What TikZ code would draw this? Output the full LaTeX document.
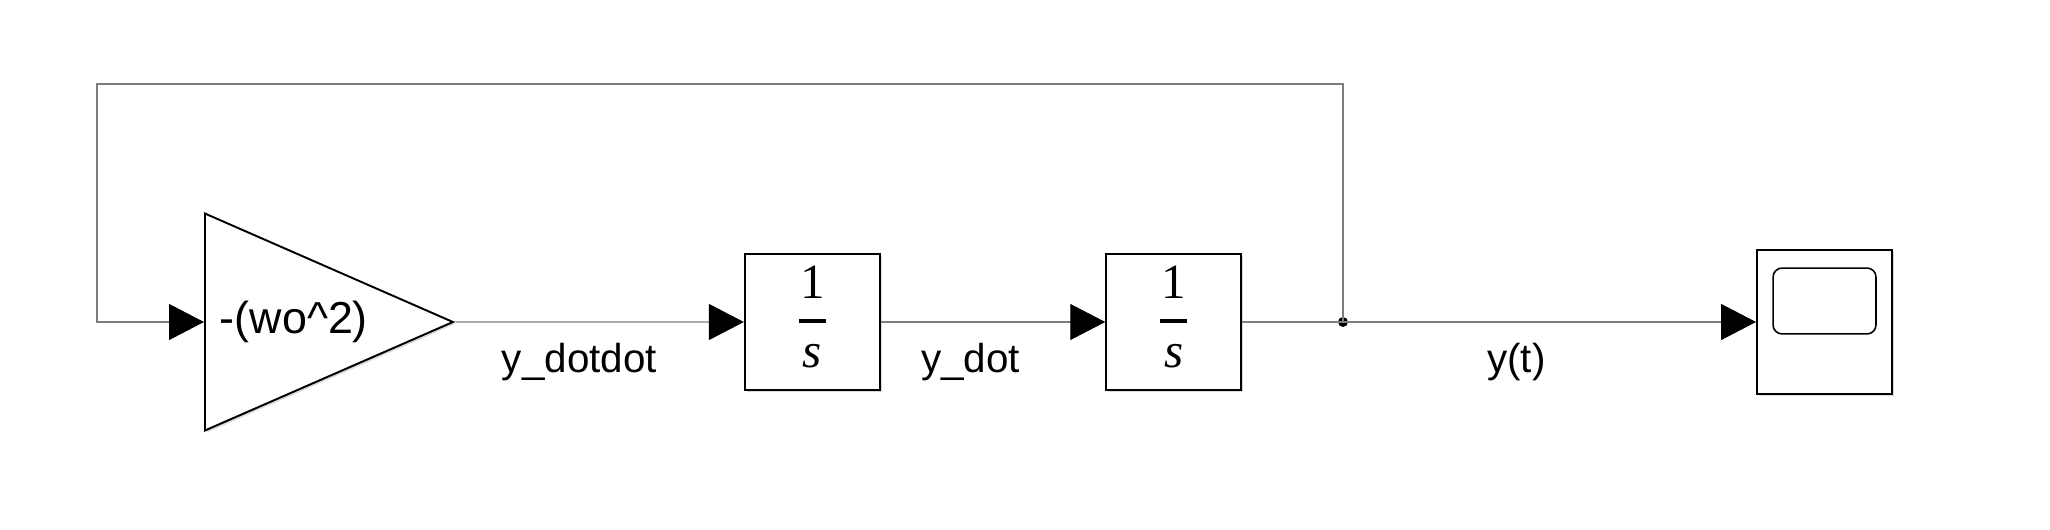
\documentclass[tikz,border=0pt]{standalone}
\usepackage{fontspec}
\setmainfont{Liberation Sans}
\newfontfamily\fracfont{Liberation Serif}
\usepackage{tikz}
\usetikzlibrary{shapes.geometric, positioning, arrows.meta, shadows}
\definecolor{wiregray}{RGB}{125,125,125}
\newcommand{\intfrac}{\fracfont\fontsize{28}{32}\selectfont\vbox{\offinterlineskip\halign{\hfil##\hfil\cr 1\cr\noalign{\kern11.8pt}\rule{0.54cm}{2.2pt}\cr\noalign{\kern11.9pt}\textit{s}\cr\noalign{\kern5.9pt}}}}
\tikzstyle{block} = [rectangle, minimum width=2.7cm, minimum height=2.72cm, inner sep=0, draw=black, line width=1.1pt, fill=white, drop shadow={shadow xshift=0.04cm, shadow yshift=-0.04cm, opacity=0.3}]
\tikzstyle{gain} = [isosceles triangle, isosceles triangle stretches, shape border rotate=0, minimum width=4.34cm, minimum height=4.96cm, inner sep=0, draw=black, line width=1.1pt, fill=white, font=\fontsize{25.5}{30}\selectfont, drop shadow={shadow xshift=0.04cm, shadow yshift=-0.04cm, opacity=0.3}]
\tikzstyle{scopeblock} = [rectangle, minimum width=2.7cm, minimum height=2.88cm, inner sep=0, draw=black, line width=1.1pt, fill=white, drop shadow={shadow xshift=0.04cm, shadow yshift=-0.04cm, opacity=0.3}]
\tikzstyle{wire} = [draw=wiregray, line width=0.7pt]
\tikzstyle{arrowtip} = [-{Triangle[length=0.7cm, width=0.72cm, color=black]}]
\tikzstyle{sig label} = [font=\fontsize{23}{27}\selectfont, inner sep=0, anchor=base, yshift=-1.02cm]
\tikzstyle{branch} = [circle, fill=black, inner sep=0, minimum size=0.2cm]

\begin{document}
\begin{tikzpicture}[x=0.02cm, y=-0.02cm]
		\useasboundingbox (0,0) rectangle (2050,530);
		\node (Gain)[gain, anchor=lower side] at (204,322) {-(wo\textasciicircum2)};
		\node (Integrator 1)[block, right = 5.77cm of Gain]{\intfrac};
		\node (Integrator 2)[block, right = 4.49cm of Integrator 1]{\intfrac};
		\node (Scope)[scopeblock, right = 10.28cm of Integrator 2]{};
		\node (Branch)[branch] at (1343,322){};
		\coordinate (Feedback corner) at (97,84);
		% scope screen
		\draw [line width=0.9pt, rounded corners=0.18cm] ([shift={(17,19)}]Scope.north west) rectangle ([shift={(-17,-61)}]Scope.south east);
		\draw [wire, arrowtip] (Gain) -- node[sig label, pos=0.43]{y\_dotdot} (Integrator 1);
		\draw [wire, arrowtip] (Integrator 1) -- node[sig label, pos=0.40]{y\_dot} (Integrator 2);
		\draw [wire] (Integrator 2) -- (Branch.center);
		\draw [wire, arrowtip] (Branch.center) -- node[sig label, pos=0.42]{y(t)} (Scope);
		\draw [wire, arrowtip] (Branch.center) |- (Feedback corner) |- (Gain.lower side);
	\end{tikzpicture}
\end{document}
